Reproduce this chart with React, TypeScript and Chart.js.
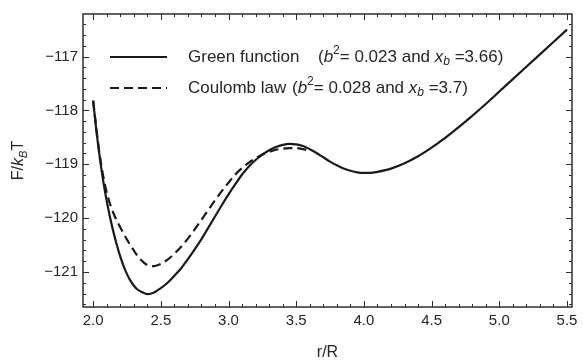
import React, { useEffect, useRef } from "react";
import { Chart, registerables } from "chart.js";

Chart.register(...registerables);

// ---- data ----
const rGreen = [
  2.0, 2.025, 2.05, 2.075, 2.1, 2.125, 2.15, 2.175, 2.2, 2.225, 2.25, 2.275, 2.3, 2.325, 2.35, 2.4, 2.45, 2.5,
  2.55, 2.6, 2.65, 2.7, 2.75, 2.8, 2.85, 2.9, 2.95, 3.0, 3.05, 3.1, 3.15, 3.2, 3.25, 3.3, 3.35, 3.4, 3.45,
  3.5, 3.55, 3.6, 3.65, 3.7, 3.75, 3.8, 3.85, 3.9, 3.95, 4.0, 4.05, 4.1, 4.2, 4.3, 4.4, 4.5, 4.6, 4.7, 4.8,
  4.9, 5.0, 5.1, 5.2, 5.3, 5.4, 5.5,
];
const fGreen = [
  -117.82, -118.4, -118.9, -119.32, -119.68, -119.99, -120.26, -120.5, -120.71, -120.89, -121.04, -121.16,
  -121.25, -121.32, -121.36, -121.41, -121.38, -121.3, -121.2, -121.07, -120.93, -120.76, -120.58, -120.39,
  -120.18, -119.97, -119.76, -119.56, -119.37, -119.19, -119.04, -118.92, -118.82, -118.74, -118.68, -118.64,
  -118.62, -118.63, -118.66, -118.72, -118.79, -118.87, -118.95, -119.02, -119.08, -119.12, -119.15, -119.16,
  -119.16, -119.14, -119.08, -118.98, -118.85, -118.69, -118.51, -118.31, -118.1, -117.88, -117.65, -117.42,
  -117.19, -116.96, -116.73, -116.5,
];
const rCoulomb = [
  2.0, 2.025, 2.05, 2.075, 2.1, 2.125, 2.15, 2.175, 2.2, 2.25, 2.3, 2.35, 2.4, 2.45, 2.5, 2.55, 2.6, 2.65,
  2.7, 2.75, 2.8, 2.85, 2.9, 2.95, 3.0, 3.05, 3.1, 3.15, 3.2, 3.25, 3.3, 3.35, 3.4, 3.45, 3.5, 3.55, 3.6,
];
const fCoulomb = [
  -117.82, -118.37, -118.85, -119.23, -119.52, -119.74, -119.91, -120.05, -120.17, -120.4, -120.6, -120.77,
  -120.87, -120.89, -120.85, -120.77, -120.66, -120.53, -120.38, -120.21, -120.03, -119.85, -119.67, -119.5,
  -119.34, -119.19, -119.07, -118.97, -118.89, -118.82, -118.77, -118.73, -118.71, -118.7, -118.7, -118.72,
  -118.75,
];
const xTicks = [2.0, 2.5, 3.0, 3.5, 4.0, 4.5, 5.0, 5.5];
const yTicks = [-121, -120, -119, -118, -117];
const seriesLabels = ["Green function", "Coulomb law"];
const b2Values = ["0.023", "0.028"];
const xbValues = ["3.66", "3.7"];

const X_MIN = 1.925;
const X_MAX = 5.537;
const Y_MIN = -121.65;
const Y_MAX = -116.21;
const X_MINOR = 0.1;
const Y_MINOR = 0.2;

const FONT = "'Liberation Sans', Arial, Helvetica, sans-serif";
const INK = "#1a1a1a";
const TEXT = "#262626";

type Seg = { t: string; it?: boolean; sup?: boolean; sub?: boolean };

function segFont(s: Seg, size: number) {
  const fs = s.sup || s.sub ? Math.round(size * 0.68) : size;
  return `${s.it ? "italic " : ""}${fs}px ${FONT}`;
}
function measureSegs(ctx: CanvasRenderingContext2D, segs: Seg[], size: number) {
  let w = 0;
  for (const s of segs) {
    ctx.font = segFont(s, size);
    w += ctx.measureText(s.t).width;
  }
  return w;
}
function drawSegs(ctx: CanvasRenderingContext2D, segs: Seg[], x: number, y: number, size: number) {
  let cx = x;
  for (const s of segs) {
    ctx.font = segFont(s, size);
    const dy = s.sup ? -size * 0.36 : s.sub ? size * 0.28 : 0;
    ctx.fillText(s.t, cx, y + dy);
    cx += ctx.measureText(s.t).width;
  }
  return cx;
}

function range(a: number, b: number, step: number) {
  const out: number[] = [];
  const n0 = Math.ceil(a / step - 1e-9);
  const n1 = Math.floor(b / step + 1e-9);
  for (let n = n0; n <= n1; n++) out.push(+(n * step).toFixed(6));
  return out;
}

const framePlugin = {
  id: "frameTicks",
  afterDraw(chart: any) {
    const { ctx, chartArea } = chart;
    const { left, right, top, bottom } = chartArea;
    const xs = chart.scales.x;
    const ys = chart.scales.y;
    ctx.save();
    ctx.strokeStyle = "#2e2e2e";
    ctx.lineWidth = 1.5;
    ctx.strokeRect(left, top, right - left, bottom - top);
    ctx.lineWidth = 1;
    const isMajor = (v: number, arr: number[]) => arr.some((m) => Math.abs(m - v) < 1e-6);
    ctx.beginPath();
    for (const v of range(X_MIN, X_MAX, X_MINOR)) {
      const px = Math.round(xs.getPixelForValue(v)) + 0.5;
      const len = isMajor(v, xTicks) ? 6 : 3;
      ctx.moveTo(px, bottom);
      ctx.lineTo(px, bottom - len);
      ctx.moveTo(px, top);
      ctx.lineTo(px, top + len);
    }
    for (const v of range(Y_MIN, Y_MAX, Y_MINOR)) {
      const py = Math.round(ys.getPixelForValue(v)) + 0.5;
      const len = isMajor(v, yTicks) ? 6 : 3;
      ctx.moveTo(left, py);
      ctx.lineTo(left + len, py);
      ctx.moveTo(right, py);
      ctx.lineTo(right - len, py);
    }
    ctx.stroke();

    // y-axis title F/k_B T
    const ySegs: Seg[] = [{ t: "F/" }, { t: "k", it: true }, { t: "B", it: true, sub: true }, { t: "T" }];
    const cy = (top + bottom) / 2;
    ctx.translate(19, cy);
    ctx.rotate(-Math.PI / 2);
    ctx.fillStyle = TEXT;
    ctx.textBaseline = "middle";
    ctx.textAlign = "left";
    const w = measureSegs(ctx, ySegs, 16);
    drawSegs(ctx, ySegs, -w / 2, 0, 16);
    ctx.restore();
  },
};

const legendPlugin = {
  id: "richLegend",
  afterDraw(chart: any) {
    const { ctx, chartArea } = chart;
    const ds = chart.data.datasets;
    const rows = [
      { y: chartArea.top + 43, parenX: 318 },
      { y: chartArea.top + 74, parenX: 292 },
    ];
    ctx.save();
    ds.forEach((d: any, i: number) => {
      const row = rows[i];
      ctx.strokeStyle = d.borderColor;
      ctx.lineWidth = 2.2;
      ctx.setLineDash(d.borderDash || []);
      ctx.beginPath();
      ctx.moveTo(110, row.y);
      ctx.lineTo(167, row.y);
      ctx.stroke();
      ctx.setLineDash([]);
      ctx.fillStyle = TEXT;
      ctx.textBaseline = "middle";
      ctx.textAlign = "left";
      ctx.font = `17px ${FONT}`;
      ctx.fillText(d.label, 188, row.y);
      const segs: Seg[] = [
        { t: "(" },
        { t: "b", it: true },
        { t: "2", sup: true },
        { t: "= " + b2Values[i] + " and " },
        { t: "x", it: true },
        { t: "b", it: true, sub: true },
        { t: " =" + xbValues[i] + ")" },
      ];
      drawSegs(ctx, segs, row.parenX, row.y, 17);
    });
    ctx.restore();
  },
};

export default function App() {
  const ref = useRef<HTMLCanvasElement | null>(null);

  useEffect(() => {
    if (!ref.current) return;
    const chart = new Chart(ref.current, {
      type: "line",
      data: {
        datasets: [
          {
            label: seriesLabels[0],
            data: rGreen.map((r, i) => ({ x: r, y: fGreen[i] })),
            borderColor: INK,
            borderWidth: 2.2,
            pointRadius: 0,
            cubicInterpolationMode: "monotone",
            fill: false,
          },
          {
            label: seriesLabels[1],
            data: rCoulomb.map((r, i) => ({ x: r, y: fCoulomb[i] })),
            borderColor: INK,
            borderWidth: 2.2,
            borderDash: [9, 5],
            pointRadius: 0,
            cubicInterpolationMode: "monotone",
            fill: false,
          },
        ],
      },
      options: {
        responsive: false,
        animation: false,
        events: [],
        layout: { padding: { top: 4, right: 11, left: 0, bottom: 0 } },
        plugins: { legend: { display: false }, tooltip: { enabled: false } },
        scales: {
          x: {
            type: "linear",
            min: X_MIN,
            max: X_MAX,
            grid: { display: false, drawTicks: false },
            border: { display: false },
            afterBuildTicks: (s: any) => {
              s.ticks = xTicks.map((v) => ({ value: v }));
            },
            afterFit: (s: any) => {
              s.height = 55;
            },
            ticks: {
              padding: 5,
              maxRotation: 0,
              autoSkip: false,
              color: TEXT,
              font: { family: FONT, size: 15 },
              callback: (v: any) => Number(v).toFixed(1),
            },
            title: {
              display: true,
              text: "r/R",
              color: TEXT,
              font: { family: FONT, size: 16 },
              padding: { top: 0, bottom: 0 },
            },
          },
          y: {
            type: "linear",
            min: Y_MIN,
            max: Y_MAX,
            grid: { display: false, drawTicks: false },
            border: { display: false },
            afterBuildTicks: (s: any) => {
              s.ticks = yTicks.map((v) => ({ value: v }));
            },
            afterFit: (s: any) => {
              s.width = 83;
            },
            ticks: {
              padding: 5,
              autoSkip: false,
              color: TEXT,
              font: { family: FONT, size: 15 },
              callback: (v: any) => "\u2212" + Math.abs(Number(v)).toFixed(0),
            },
          },
        },
      },
      plugins: [framePlugin, legendPlugin],
    } as any);
    return () => chart.destroy();
  }, []);

  return (
    <div style={{ position: "absolute", left: 0, top: 0, width: 583, height: 362, background: "#fff" }}>
      <canvas ref={ref} width={583} height={362} style={{ display: "block" }} />
    </div>
  );
}
